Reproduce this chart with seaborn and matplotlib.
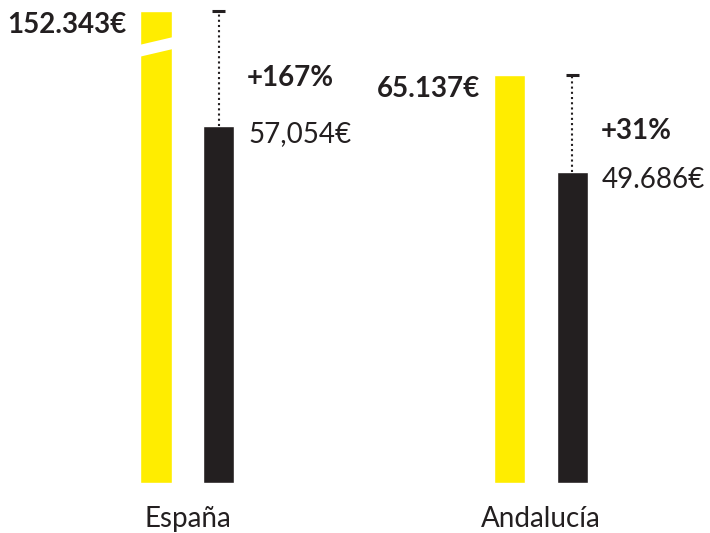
import pandas as pd
import matplotlib.pyplot as plt
import seaborn as sns
from matplotlib.patches import Polygon

# data
regions = ["España", "Andalucía"]
series = ["top", "base"]
top_values = [152343, 65137]
base_values = [57054, 49686]
top_labels = ["152.343€", "65.137€"]
base_labels = ["57,054€", "49.686€"]
pct_labels = ["+167%", "+31%"]

YELLOW = "#ffed00"
DARK = "#231f20"
break_at = 75300  # España top bar is cut here


def build_frame():
    rows = []
    for r, t, b in zip(regions, top_values, base_values):
        rows.append({"region": r, "serie": "top", "value": min(t, break_at)})
        rows.append({"region": r, "serie": "base", "value": b})
    return pd.DataFrame(rows)


def main():
    sns.set_style("white")
    plt.rcParams["font.family"] = ["Lato", "DejaVu Sans"]

    df = build_frame()
    fig = plt.figure(figsize=(7.1, 5.33), dpi=100)
    ax = fig.add_axes([0, 0, 1, 1])

    sns.barplot(data=df, x="region", y="value", hue="serie", order=regions,
                hue_order=series, palette=[YELLOW, DARK], width=0.354,
                gap=0.5, saturation=1, legend=False, ax=ax)

    ax.set_xlim(-0.530, 1.478)
    ax.set_ylim(-7980, 77100)
    ax.axis("off")

    top_bars = ax.patches[:2]
    base_bars = ax.patches[2:4]
    px = 1 / 353.5  # data units per pixel along x

    for i, (tb, bb) in enumerate(zip(top_bars, base_bars)):
        top_h = tb.get_height()
        base_h = bb.get_height()
        xc = bb.get_x() + bb.get_width() / 2

        # broken bar marker
        if top_values[i] > break_at:
            x0, x1 = tb.get_x() - 0.005, tb.get_x() + tb.get_width() + 0.005
            poly = Polygon([(x0, 68000), (x1, 69300), (x1, 71200), (x0, 69900)],
                           closed=True, facecolor="white", edgecolor="none", zorder=3)
            ax.add_patch(poly)

        # dotted connector + cap
        ax.plot([xc, xc], [base_h, top_h], color=DARK, lw=1.5,
                linestyle=(0, (1.0, 1.5)), zorder=2)
        ax.plot([xc - 6.5 * px, xc + 6.5 * px], [top_h, top_h], color=DARK,
                lw=2.2, solid_capstyle="butt", zorder=2)

        ax.annotate(top_labels[i], (tb.get_x(), top_h), xytext=(-10, -10),
                    textcoords="offset points", ha="right", va="center",
                    fontsize=20, fontweight="bold", color=DARK)
        ax.annotate(base_labels[i], (bb.get_x() + bb.get_width(), base_h),
                    xytext=(10, -6), textcoords="offset points", ha="left",
                    va="center", fontsize=20, color=DARK)
        mid = base_h + (top_h - base_h) * 0.42
        ax.annotate(pct_labels[i], (bb.get_x() + bb.get_width(), mid),
                    xytext=(9, 0), textcoords="offset points", ha="left",
                    va="center", fontsize=20, fontweight="bold", color=DARK)

        ax.annotate(regions[i], (i, 0), xytext=(0, -26),
                    textcoords="offset points", ha="center", va="center",
                    fontsize=20, color=DARK)

    fig.savefig("out.png", dpi=100)


main()
